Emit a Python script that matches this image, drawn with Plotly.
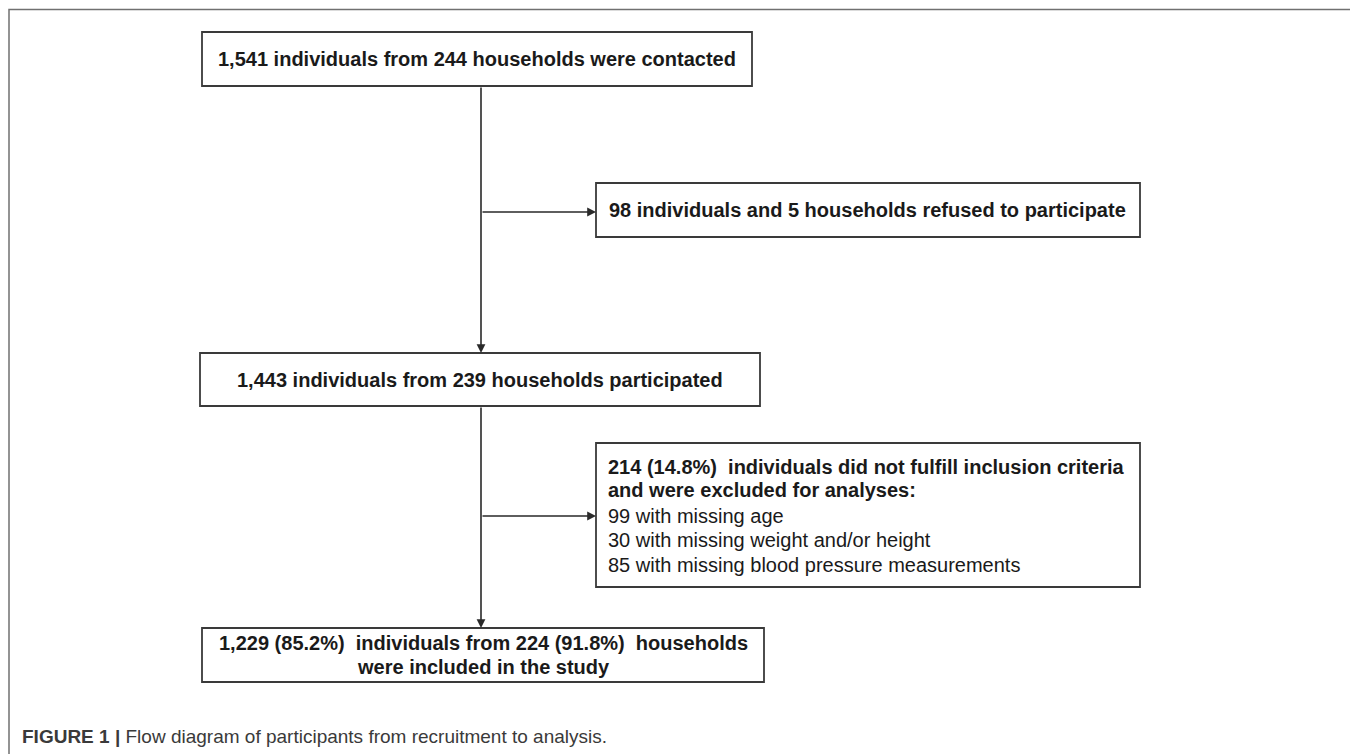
import plotly.graph_objects as go

# ---- data (texts / counts of the flow diagram) ----
contacted_text = ["1,541 individuals from 244 households were contacted"]
refused_text = ["98 individuals and 5 households refused to participate"]
participated_text = ["1,443 individuals from 239 households participated"]
excluded_head = ["214 (14.8%)  individuals did not fulfill inclusion criteria",
                 "and were excluded for analyses:"]
excluded_items = ["99 with missing age",
                  "30 with missing weight and/or height",
                  "85 with missing blood pressure measurements"]
included_text = ["1,229 (85.2%)  individuals from 224 (91.8%)  households",
                 "were included in the study"]
caption_bold = "FIGURE 1 |"
caption_text = " Flow diagram of participants from recruitment to analysis."

# ---- layout (pixel geometry, page coordinates) ----
W, H = 1358, 754
OFF = 8  # default page body margin
BOX_COLOR = "#3a3a3a"
LINE_COLOR = "#2a2a2a"
FONT = "Liberation Sans, Arial, Helvetica, sans-serif"

boxes = {
    "contacted": (202, 32, 752, 86),
    "refused": (596, 183, 1140, 237),
    "participated": (200, 353, 760, 406),
    "excluded": (596, 443, 1140, 587),
    "included": (202, 628, 764, 682),
}
spine_x = 481

fig = go.Figure()
fig.add_trace(go.Scatter(x=[OFF, W], y=[OFF, H], mode="markers",
                         marker=dict(opacity=0), hoverinfo="skip", showlegend=False))

shapes = []
# outer frame (open at bottom)
shapes.append(dict(type="path", path=f"M 9,{H+5} L 9,9.5 L 1355,9.5 L 1355,{H+5}",
                   xref="x", yref="y", line=dict(color="#707070", width=1.5)))
for key, (x0, y0, x1, y1) in boxes.items():
    shapes.append(dict(type="rect", x0=x0, y0=y0, x1=x1, y1=y1, xref="x", yref="y",
                       line=dict(color=BOX_COLOR, width=1.8), fillcolor="white"))

annotations = []


def arrow(x0, y0, x1, y1):
    annotations.append(dict(x=x1, y=y1, ax=x0, ay=y0, xref="x", yref="y",
                            axref="x", ayref="y", showarrow=True, arrowhead=2,
                            arrowsize=1.1, arrowwidth=1.6, arrowcolor=LINE_COLOR,
                            text=""))


# main spine
arrow(spine_x, boxes["contacted"][3], spine_x, boxes["participated"][1])
arrow(spine_x, boxes["participated"][3], spine_x, boxes["included"][1])
# side branches
arrow(spine_x, 212, boxes["refused"][0], 212)
arrow(spine_x, 516, boxes["excluded"][0], 516)


def text(x, y, s, bold=True, xanchor="center", size=20, color="#1a1a1a"):
    annotations.append(dict(x=x, y=y, xref="x", yref="y", showarrow=False,
                            text=f"<b>{s}</b>" if bold else s, xanchor=xanchor,
                            yanchor="middle", font=dict(size=size, family=FONT, color=color)))


b = boxes["contacted"]
text((b[0] + b[2]) / 2, 59, contacted_text[0])
b = boxes["refused"]
text(b[0] + 11, (b[1] + b[3]) / 2, refused_text[0], xanchor="left")
b = boxes["participated"]
text((b[0] + b[2]) / 2, (b[1] + b[3]) / 2, participated_text[0])
b = boxes["excluded"]
ys = [467, 490, 516, 540, 565]
for i, s in enumerate(excluded_head):
    text(b[0] + 10, ys[i], s, xanchor="left")
for j, s in enumerate(excluded_items):
    text(b[0] + 10, ys[2 + j], s, bold=False, xanchor="left")
b = boxes["included"]
cx = (b[0] + b[2]) / 2
for k, s in enumerate(included_text):
    text(cx, 643 + 24 * k, s)

annotations.append(dict(x=20, y=736, xref="x", yref="y", showarrow=False, xanchor="left",
                        yanchor="middle",
                        text=f"<b>{caption_bold}</b>{caption_text}",
                        font=dict(size=19, family=FONT, color="#3a3a3a")))

fig.update_layout(
    width=W - OFF, height=H - OFF, margin=dict(l=0, r=0, t=0, b=0),
    paper_bgcolor="white", plot_bgcolor="white",
    xaxis=dict(range=[OFF, W], visible=False, fixedrange=True),
    yaxis=dict(range=[H, OFF], visible=False, fixedrange=True),
    shapes=shapes, annotations=annotations, showlegend=False,
)
fig.write_html("out.html")
